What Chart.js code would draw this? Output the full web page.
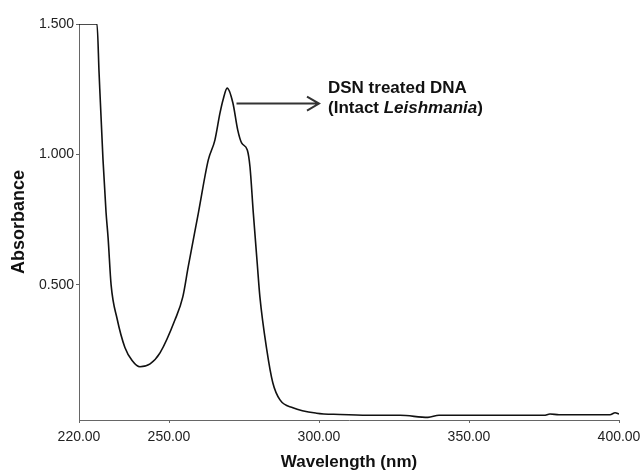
<!DOCTYPE html>
<html lang="en">
<head>
<meta charset="UTF-8">
<title>Absorbance spectrum</title>
<script src="https://cdn.jsdelivr.net/npm/chart.js"></script>
<style>
  body { margin: 0; background: #fff; }
  canvas { display: block; }
</style>
</head>
<body>
<canvas id="espectro" width="640" height="473"></canvas>

<script>
// valores
const wavelength = [
  220, 226.0, 226.7, 228.0, 229.0, 229.7, 230.7, 232.7, 235.3, 237.7,
  240.3, 243.7, 247.0, 252.0, 254.6, 256.4, 259.8, 263.1, 265.3, 267.0,
  268.0, 269.4, 271.3, 272.9, 274.2, 276.1, 277.0, 278.1, 279.4, 280.3,
  282.6, 284.6, 287.0, 291.3, 299.2, 307, 316.3, 327, 336.3, 340,
  360, 375, 377, 380, 397, 398.7, 400
];
const absorbance = [
  1.5, 1.5, 1.31, 0.98, 0.78, 0.68, 0.50, 0.37, 0.26, 0.21,
  0.186, 0.197, 0.239, 0.366, 0.454, 0.569, 0.776, 0.979, 1.055, 1.159,
  1.209, 1.254, 1.197, 1.094, 1.044, 1.017, 0.952, 0.776, 0.584, 0.454,
  0.251, 0.125, 0.059, 0.029, 0.008, 0.003, 0.0, 0.0, -0.008, 0.0,
  0.0, 0.0, 0.005, 0.002, 0.002, 0.01, 0.005
];
const xTicks = [220, 250, 300, 350, 400];
const yTicks = [0.5, 1.0, 1.5];

const labelLine1 = 'DSN treated DNA';
const labelLine2a = '(Intact ';
const labelLine2b = 'Leishmania';
const labelLine2c = ')';
// seta: da ponta do pico até o texto (unidades dos eixos)
const arrowFrom = [272.5, 1.195];
const arrowTo = [300, 1.195];

const pontos = wavelength.map((w, i) => ({ x: w, y: absorbance[i] }));

// desenha a seta e o texto do rótulo
const rotuloPlugin = {
  id: 'rotulo',
  afterDatasetsDraw(chart) {
    const ctx = chart.ctx;
    const sx = chart.scales.x, sy = chart.scales.y;
    const x1 = sx.getPixelForValue(arrowFrom[0]);
    const x2 = sx.getPixelForValue(arrowTo[0]);
    const y = sy.getPixelForValue(arrowFrom[1]);
    ctx.save();
    ctx.strokeStyle = '#333';
    ctx.lineWidth = 2;
    ctx.beginPath();
    ctx.moveTo(x1, y);
    ctx.lineTo(x2, y);
    ctx.moveTo(x2 - 12, y - 7);
    ctx.lineTo(x2, y);
    ctx.lineTo(x2 - 12, y + 7);
    ctx.stroke();

    const tx = x2 + 9;
    ctx.fillStyle = '#111';
    ctx.textBaseline = 'middle';
    ctx.textAlign = 'left';
    ctx.font = 'bold 17px "Liberation Sans", Arial, sans-serif';
    ctx.fillText(labelLine1, tx, y - 15);
    let px = tx;
    ctx.fillText(labelLine2a, px, y + 5);
    px += ctx.measureText(labelLine2a).width;
    ctx.font = 'italic bold 17px "Liberation Sans", Arial, sans-serif';
    ctx.fillText(labelLine2b, px, y + 5);
    px += ctx.measureText(labelLine2b).width;
    ctx.font = 'bold 17px "Liberation Sans", Arial, sans-serif';
    ctx.fillText(labelLine2c, px, y + 5);
    ctx.restore();
  }
};

const config = {
  type: 'line',
  data: {
    datasets: [{
      data: pontos,
      borderColor: '#111',
      borderWidth: 1.6,
      pointRadius: 0,
      cubicInterpolationMode: 'monotone',
      fill: false,
    }]
  },
  options: {
    responsive: false,
    animation: false,
    layout: { padding: { top: 24, right: 21, left: 0, bottom: 0 } },
    plugins: {
      legend: { display: false },
      tooltip: { enabled: false },
    },
    scales: {
      x: {
        type: 'linear',
        min: 220,
        max: 400,
        afterBuildTicks: axis => { axis.ticks = xTicks.map(v => ({ value: v })); },
        afterFit: axis => { axis.height = 53; axis.paddingRight = 0; axis.paddingLeft = 0; },
        grid: { drawOnChartArea: false, tickLength: 3, color: '#666' },
        border: { color: '#666', width: 1 },
        ticks: {
          maxRotation: 0,
          padding: 6,
          color: '#222',
          font: { family: '"Liberation Sans", Arial, sans-serif', size: 14 },
          callback: v => Number(v).toFixed(2),
        },
        title: {
          display: true,
          text: 'Wavelength (nm)',
          color: '#111',
          padding: { top: 3, bottom: 0 },
          font: { family: '"Liberation Sans", Arial, sans-serif', size: 17, weight: 'bold' },
        },
      },
      y: {
        min: -0.018,
        max: 1.5,
        afterBuildTicks: axis => { axis.ticks = yTicks.map(v => ({ value: v })); },
        afterFit: axis => { axis.width = 79; },
        grid: { drawOnChartArea: false, tickLength: 3, color: '#666' },
        border: { color: '#666', width: 1 },
        ticks: {
          padding: 2,
          color: '#222',
          font: { family: '"Liberation Sans", Arial, sans-serif', size: 14 },
          callback: v => Number(v).toFixed(3),
        },
        title: {
          display: true,
          text: 'Absorbance',
          color: '#111',
          padding: { top: 8, bottom: 0 },
          font: { family: '"Liberation Sans", Arial, sans-serif', size: 18, weight: 'bold' },
        },
      },
    },
  },
  plugins: [rotuloPlugin],
};

const espectro = new Chart(document.getElementById('espectro'), config);
</script>
</body>
</html>
